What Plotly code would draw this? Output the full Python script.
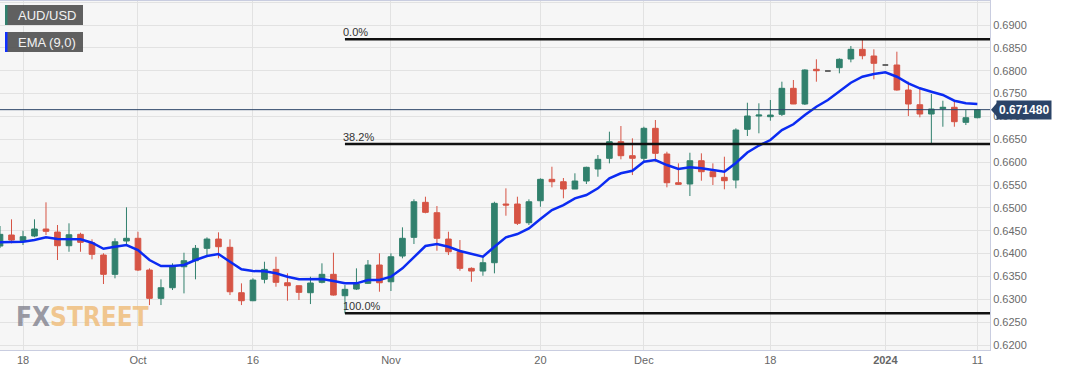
import pandas as pd
import plotly.graph_objects as go

# ---------------- data ----------------
dates = [d.strftime("%Y-%m-%d") for d in pd.bdate_range("2023-09-14", "2024-01-11")]

opens = [0.64165, 0.64406, 0.64281, 0.64384, 0.64537, 0.64471, 0.64172, 0.64421, 0.64237, 0.63968,
         0.63546, 0.64275, 0.64334, 0.63640, 0.63021, 0.63253, 0.63712, 0.63844, 0.64115, 0.64318,
         0.64137, 0.63144, 0.62969, 0.63437, 0.63655, 0.63362, 0.63297, 0.63144, 0.63371, 0.63546,
         0.63078, 0.63224, 0.63349, 0.63750, 0.63384, 0.63946, 0.64355, 0.65121, 0.64894, 0.64318,
         0.64040, 0.63677, 0.63618, 0.63800, 0.65084, 0.65084, 0.64675, 0.65156, 0.65624, 0.65572,
         0.65412, 0.65587, 0.65850, 0.66084, 0.66447, 0.66141, 0.66084, 0.66740, 0.66178, 0.65550,
         0.65522, 0.66031, 0.65791, 0.65668, 0.65609, 0.66718, 0.67009, 0.66994, 0.67046, 0.67615,
         0.67272, 0.68031, 0.67994, 0.68066, 0.68256, 0.68468, 0.68322, 0.68125, 0.68125, 0.67578,
         0.67256, 0.67053, 0.67169, 0.67200, 0.66871, 0.66972]
highs = [0.64603, 0.64749, 0.64500, 0.64749, 0.65121, 0.64625, 0.64662, 0.64456, 0.64312, 0.64006,
         0.64334, 0.65012, 0.64478, 0.63677, 0.63437, 0.63787, 0.64019, 0.64187, 0.64355, 0.64465,
         0.64312, 0.63349, 0.63459, 0.63822, 0.63931, 0.63568, 0.63300, 0.63494, 0.63787, 0.64019,
         0.63312, 0.63677, 0.63859, 0.64006, 0.64006, 0.64574, 0.65187, 0.65244, 0.65040, 0.64478,
         0.64296, 0.63699, 0.63931, 0.65134, 0.65427, 0.65244, 0.65187, 0.65646, 0.65900, 0.65653,
         0.65756, 0.65900, 0.66156, 0.66666, 0.66790, 0.66521, 0.66775, 0.66922, 0.66228, 0.65974,
         0.66206, 0.66193, 0.65974, 0.66119, 0.66740, 0.67300, 0.67287, 0.67359, 0.67760, 0.67797,
         0.68031, 0.68250, 0.67994, 0.68271, 0.68541, 0.68687, 0.68468, 0.68125, 0.68416, 0.67760,
         0.67615, 0.67491, 0.67344, 0.67322, 0.67140, 0.67160]
lows = [0.64121, 0.64224, 0.64187, 0.64360, 0.64406, 0.63859, 0.64040, 0.64040, 0.63874, 0.63334,
        0.63459, 0.64187, 0.63618, 0.62874, 0.62874, 0.63203, 0.63130, 0.63437, 0.63931, 0.63896,
        0.63093, 0.62874, 0.62960, 0.63349, 0.63275, 0.62969, 0.62984, 0.62896, 0.63349, 0.63080,
        0.62693, 0.63203, 0.63334, 0.63166, 0.63181, 0.63896, 0.64209, 0.64881, 0.64062, 0.63968,
        0.63625, 0.63384, 0.63515, 0.63568, 0.64828, 0.64625, 0.64625, 0.65025, 0.65449, 0.65209,
        0.65412, 0.65522, 0.65681, 0.65974, 0.66062, 0.65718, 0.66010, 0.66010, 0.65449, 0.65500,
        0.65259, 0.65594, 0.65500, 0.65406, 0.65428, 0.66572, 0.66631, 0.66906, 0.67009, 0.67270,
        0.67250, 0.67760, 0.67994, 0.67943, 0.68184, 0.68250, 0.67812, 0.68125, 0.67563, 0.67009,
        0.66981, 0.66412, 0.66775, 0.66775, 0.66812, 0.66960]
closes = [0.64421, 0.64296, 0.64369, 0.64537, 0.64487, 0.64172, 0.64412, 0.64246, 0.63984, 0.63546,
          0.64259, 0.64334, 0.63640, 0.63021, 0.63253, 0.63712, 0.63844, 0.64115, 0.64318, 0.64150,
          0.63165, 0.62969, 0.63421, 0.63655, 0.63371, 0.63297, 0.63152, 0.63356, 0.63546, 0.63093,
          0.63218, 0.63334, 0.63750, 0.63362, 0.63931, 0.64334, 0.65134, 0.64902, 0.64334, 0.64040,
          0.63677, 0.63618, 0.63800, 0.65099, 0.65062, 0.64662, 0.65134, 0.65624, 0.65572, 0.65412,
          0.65587, 0.65887, 0.66062, 0.66447, 0.66141, 0.66084, 0.66740, 0.66193, 0.65550, 0.65515,
          0.66031, 0.65791, 0.65681, 0.65594, 0.66703, 0.67009, 0.67030, 0.67030, 0.67615, 0.67272,
          0.68016, 0.68000, 0.67994, 0.68250, 0.68468, 0.68328, 0.68162, 0.68125, 0.67578, 0.67272,
          0.67053, 0.67162, 0.67200, 0.66885, 0.66972, 0.67148]
ema9 = [0.64246, 0.64246, 0.64259, 0.64296, 0.64355, 0.64318, 0.64318, 0.64312, 0.64237, 0.64106,
        0.64150, 0.64187, 0.64078, 0.63859, 0.63728, 0.63728, 0.63750, 0.63859, 0.63946, 0.63990,
        0.63822, 0.63655, 0.63618, 0.63611, 0.63568, 0.63494, 0.63437, 0.63437, 0.63443, 0.63399,
        0.63349, 0.63349, 0.63421, 0.63421, 0.63494, 0.63677, 0.63931, 0.64165, 0.64209, 0.64150,
        0.64056, 0.63990, 0.63931, 0.64150, 0.64355, 0.64428, 0.64552, 0.64756, 0.64953, 0.65062,
        0.65209, 0.65281, 0.65427, 0.65646, 0.65756, 0.65812, 0.66009, 0.66047, 0.65937, 0.65850,
        0.65887, 0.65865, 0.65828, 0.65791, 0.65981, 0.66211, 0.66364, 0.66484, 0.66703, 0.66828,
        0.67031, 0.67213, 0.67359, 0.67541, 0.67737, 0.67869, 0.67928, 0.67965, 0.67869, 0.67725,
        0.67615, 0.67541, 0.67469, 0.67344, 0.67287, 0.67272]

tick_dates = ["2023-09-18", "2023-10-02", "2023-10-16", "2023-11-01", "2023-11-20",
              "2023-12-01", "2023-12-18", "2024-01-01", "2024-01-11"]
tick_text = ["18", "Oct", "16", "Nov", "20", "Dec", "18", "<b>2024</b>", "11"]
fib_ratios = [0.0, 0.382, 1.0]
fib_labels = ["0.0%", "38.2%", "100.0%"]

# ---------------- styling ----------------
GREEN = "#31806d"
RED = "#d65445"
FLAT = "#3a3a3a"
BLUE = "#0b2bf2"
NAVY = "#2b4468"
Y_MIN, Y_MAX = 0.61891, 0.69525
X_MIN, X_MAX = 0.0, 86.1

reg = [i for i in range(len(dates)) if opens[i] != closes[i] or highs[i] != lows[i]]
flat = [i for i in range(len(dates)) if i not in reg]

fig = go.Figure()
fig.add_trace(go.Candlestick(
    x=[dates[i] for i in reg], open=[opens[i] for i in reg], high=[highs[i] for i in reg],
    low=[lows[i] for i in reg], close=[closes[i] for i in reg],
    increasing=dict(line=dict(color=GREEN, width=1), fillcolor=GREEN),
    decreasing=dict(line=dict(color=RED, width=1), fillcolor=RED),
    whiskerwidth=0, hoverinfo="skip", showlegend=False, name="AUD/USD"))
fig.add_trace(go.Candlestick(
    x=[dates[i] for i in flat], open=[opens[i] for i in flat], high=[highs[i] for i in flat],
    low=[lows[i] for i in flat], close=[closes[i] for i in flat],
    increasing=dict(line=dict(color=FLAT, width=1.5), fillcolor=FLAT),
    decreasing=dict(line=dict(color=FLAT, width=1.5), fillcolor=FLAT),
    whiskerwidth=0, hoverinfo="skip", showlegend=False))
fig.add_trace(go.Scatter(x=dates, y=ema9, mode="lines", line=dict(color=BLUE, width=2.5),
                         hoverinfo="skip", showlegend=False, name="EMA (9,0)"))

# Fibonacci retracement (from the swing low date to the right edge)
hi = max(highs)
lo = min(lows)
lo_idx = lows.index(lo)
lo_paper = (lo_idx - X_MIN) / (X_MAX - X_MIN)
for r, lab in zip(fib_ratios, fib_labels):
    lvl = hi - r * (hi - lo)
    fig.add_shape(type="line", xref="paper", yref="y", x0=lo_paper, x1=1, y0=lvl, y1=lvl,
                  line=dict(color="#111111", width=2.5))
    fig.add_annotation(x=lo_paper, y=lvl, xref="paper", yref="y", text=lab, showarrow=False,
                       xanchor="left", yanchor="bottom", xshift=-4, yshift=-1,
                       font=dict(family="Liberation Sans, Arial", size=11, color="#333333"))

# last price line + label
last = closes[-1]
last_paper = (last - Y_MIN) / (Y_MAX - Y_MIN)
fig.add_shape(type="line", xref="paper", yref="y", x0=0, x1=1, y0=last, y1=last,
              line=dict(color=NAVY, width=1))
fig.add_shape(type="path", xref="paper", yref="paper", xsizemode="pixel", ysizemode="pixel",
              xanchor=1, yanchor=last_paper, path="M 1 0 L 7 -7 L 7 7 Z",
              fillcolor=NAVY, line=dict(width=0))
fig.add_annotation(xref="paper", yref="y", x=1, y=last, text="<b>%.6f</b>" % last,
                   showarrow=False, xanchor="left", xshift=6, bgcolor=NAVY, borderpad=2,
                   font=dict(family="Liberation Sans, Arial", size=12, color="white"))

# legend boxes
for k, (lab, col) in enumerate([("AUD/USD", GREEN), ("EMA (9,0)", "#1030ff")]):
    top = -4 - 27 * k
    fig.add_shape(type="rect", xref="paper", yref="paper", xsizemode="pixel", ysizemode="pixel",
                  xanchor=0, yanchor=1, x0=5, x1=83, y0=top, y1=top - 20,
                  fillcolor="rgba(80,80,80,0.9)", line=dict(width=0))
    fig.add_shape(type="rect", xref="paper", yref="paper", xsizemode="pixel", ysizemode="pixel",
                  xanchor=0, yanchor=1, x0=5, x1=7.5, y0=top, y1=top - 20,
                  fillcolor=col, line=dict(width=0))
    fig.add_annotation(xref="paper", yref="paper", x=0, y=1, xanchor="left", yanchor="middle",
                       xshift=16, yshift=top - 10, text=lab, showarrow=False,
                       font=dict(family="Liberation Sans, Arial", size=13, color="#f2f2f2"))

# watermark
fig.add_annotation(xref="paper", yref="paper", x=14 / 990, y=(350 - 317) / 349,
                   xanchor="left", yanchor="middle", showarrow=False,
                   text="<span style='color:rgba(128,128,140,0.8)'>FX</span>"
                        "<span style='color:rgba(240,190,125,0.85)'>STREET</span>",
                   font=dict(family="DejaVu Sans Condensed", size=26, weight="bold"))

fig.update_layout(
    width=1067, height=376, margin=dict(l=0, r=77, t=1, b=26),
    paper_bgcolor="white", plot_bgcolor="#f6f6f6",
    xaxis=dict(type="category", categoryorder="array", categoryarray=dates,
               range=[X_MIN, X_MAX], rangeslider=dict(visible=False),
               tickmode="array", tickvals=tick_dates, ticktext=tick_text,
               showgrid=True, gridcolor="#e2e2e2", gridwidth=1,
               showline=True, linecolor="#c9cde0", mirror=True, ticks="",
               tickfont=dict(family="Liberation Sans, Arial", size=11, color="#666666")),
    yaxis=dict(side="right", range=[Y_MIN, Y_MAX], tickmode="linear", tick0=0.62, dtick=0.005,
               tickformat=".4f", showgrid=True, gridcolor="#e2e2e2", gridwidth=1,
               showline=True, linecolor="#c9cde0", mirror=True, ticks="",
               tickfont=dict(family="Liberation Sans, Arial", size=11, color="#6a6a6a"),
               zeroline=False),
    showlegend=False,
)

fig.write_html("out.html", config={"displayModeBar": False},
               post_script="document.body.style.margin='0';")
